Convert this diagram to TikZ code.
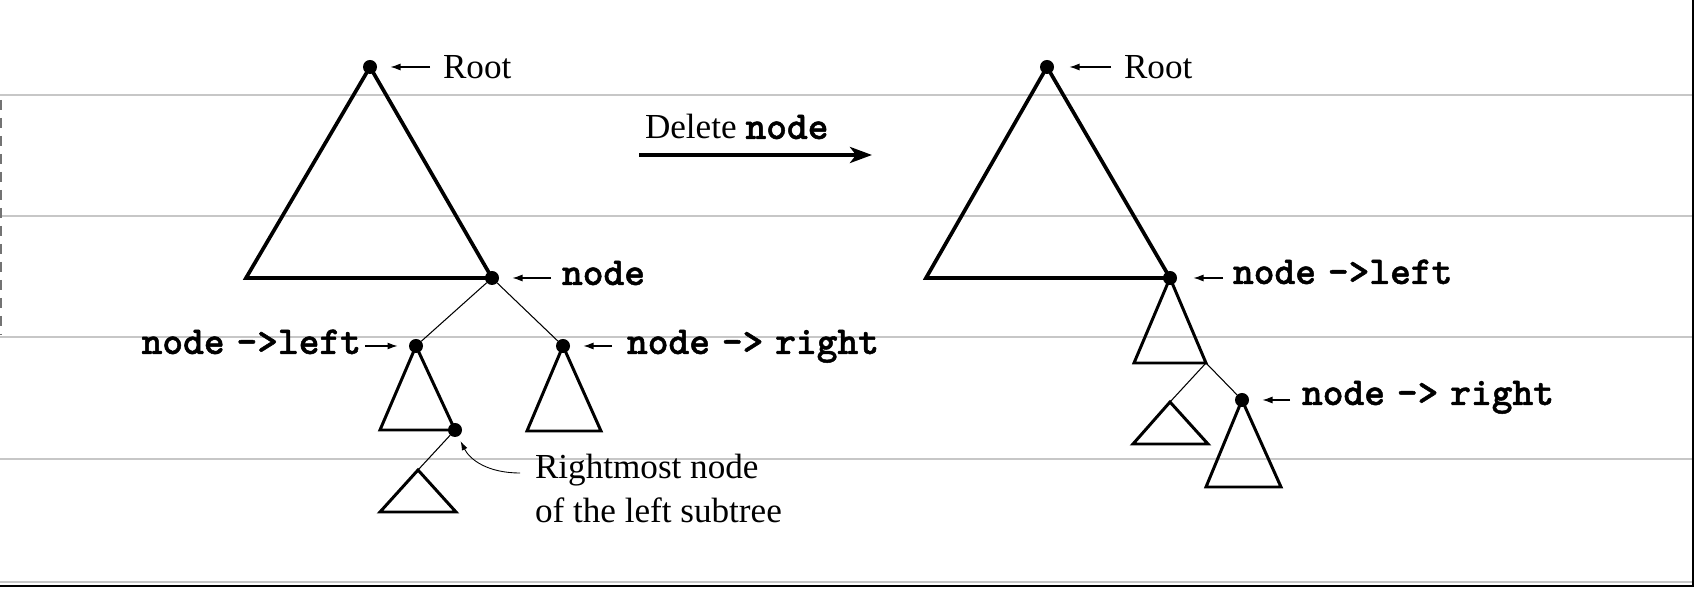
\documentclass[tikz,border=0pt]{standalone}
\usepackage{fontspec}
\setmainfont{Liberation Serif}
\newfontfamily\codefont{lmmonolt10-bold.otf}[FakeBold=1.2]
\usetikzlibrary{arrows.meta}

\newlength{\du}
\setlength{\du}{0.02cm}
\newcommand{\ptrto}{\kern.3em->}

\tikzset{
  treedot/.style={circle,fill=black,inner sep=0pt,outer sep=0pt,minimum size=14\du},
  textlabel/.style={inner sep=0pt,outer sep=0pt,font=\fontsize{20}{25}\selectfont},
  codelabel/.style={inner sep=0pt,outer sep=0pt,font=\fontsize{22.5}{25}\codefont},
  bigtree/.style={line width=2.1pt,miter limit=10},
  subtree/.style={line width=1.7pt,miter limit=10},
  treelink/.style={line width=0.6pt},
  pointer/.style={line width=0.6pt,-{Latex[length=0.2cm,width=0.14cm]},shorten >=13.5\du},
  ruling/.style={draw=rulecolor,line width=0.6pt}
}

\begin{document}
\begin{tikzpicture}
\pgftransformxscale{1.000000}
\pgftransformyscale{-1.000000}
\definecolor{rulecolor}{rgb}{0.780000, 0.780000, 0.780000}
\definecolor{edgecolor}{rgb}{0.450000, 0.450000, 0.450000}
\useasboundingbox (0\du,0\du) rectangle (1695\du,590\du);
% ruled sheet
\foreach \y in {95,216,337,459,582}
  \draw[ruling] (0\du,\y\du) -- (1692\du,\y\du);
\draw[edgecolor,line width=0.8pt,dash pattern=on 10\du off 8\du] (1\du,100\du) -- (1\du,335\du);
\draw[line width=1.4pt] (0\du,586\du) -- (1693\du,586\du) -- (1693\du,0\du);
% before
\node[treedot] (root1) at (370\du,67\du) {};
\node[treedot] (node1) at (492\du,278\du) {};
\node[treedot] (left1) at (416\du,346\du) {};
\node[treedot] (right1) at (563\du,346\du) {};
\node[treedot] (most1) at (455\du,430\du) {};
\coordinate (base1) at (246\du,278\du);
\coordinate (leftbase1) at (380\du,430\du);
\coordinate (rightbase1a) at (527\du,431\du);
\coordinate (rightbase1b) at (601\du,431\du);
\coordinate (sub1) at (418\du,470\du);
\coordinate (subbase1a) at (380\du,512\du);
\coordinate (subbase1b) at (456\du,512\du);
\draw[bigtree] (root1.center) -- (base1) -- (node1.center) -- cycle;
\draw[treelink] (node1) -- (left1);
\draw[treelink] (node1) -- (right1);
\draw[subtree] (left1.center) -- (leftbase1) -- (most1.center) -- cycle;
\draw[subtree] (right1.center) -- (rightbase1a) -- (rightbase1b) -- cycle;
\draw[treelink] (most1) -- (sub1);
\draw[subtree] (sub1) -- (subbase1a) -- (subbase1b) -- cycle;
\node[textlabel,anchor=base west] (rootlbl1) at (443\du,79\du) {Root};
\node[codelabel,anchor=base west] (nodelbl1) at (562\du,285\du) {node};
\node[codelabel,anchor=base east] (leftlbl1) at (361\du,354\du) {node\ptrto left};
\node[codelabel,anchor=base west] (rightlbl1) at (627\du,354\du) {node\ptrto\kern.3em right};
\node[textlabel,anchor=north west,align=left] (mostlbl1) at (535\du,454\du) {Rightmost node\\of the left subtree};
\draw[pointer,shorten <=13\du] (rootlbl1.west |- root1) -- (root1);
\draw[pointer,shorten <=11\du] (nodelbl1.west |- node1) -- (node1);
\draw[pointer,shorten <=4\du,shorten >=11.5\du] (leftlbl1.east |- left1) -- (left1);
\draw[pointer,shorten <=15\du] (rightlbl1.west |- right1) -- (right1);
\coordinate (mosttail) at (520\du,473\du);
\draw[line width=0.5pt,-{Latex[length=0.18cm,width=0.12cm]},shorten >=5.5\du] (mosttail) .. controls (488\du,473\du) and (470\du,460\du) .. (most1);
% delete
\node[textlabel,anchor=base west] (deletelbl) at (645\du,139\du) {Delete {\fontsize{22.5}{25}\codefont node}};
\coordinate (deletefrom) at (639\du,155\du);
\coordinate (deleteto) at (872\du,155\du);
\draw[line width=2.3pt,-{Stealth[length=0.44cm,width=0.32cm,inset=0.12cm]}] (deletefrom) -- (deleteto);
% after
\node[treedot] (root2) at (1047\du,67\du) {};
\node[treedot] (left2) at (1170\du,278\du) {};
\node[treedot] (right2) at (1242\du,400\du) {};
\coordinate (base2) at (926\du,278\du);
\coordinate (leftbase2a) at (1134\du,363\du);
\coordinate (leftbase2b) at (1206\du,363\du);
\coordinate (sub2) at (1170\du,402\du);
\coordinate (subbase2a) at (1133\du,444\du);
\coordinate (subbase2b) at (1208\du,444\du);
\coordinate (rightbase2a) at (1206\du,487\du);
\coordinate (rightbase2b) at (1281\du,487\du);
\draw[bigtree] (root2.center) -- (base2) -- (left2.center) -- cycle;
\draw[subtree] (left2.center) -- (leftbase2a) -- (leftbase2b) -- cycle;
\draw[treelink] (leftbase2b) -- (sub2);
\draw[treelink] (leftbase2b) -- (right2);
\draw[subtree] (sub2) -- (subbase2a) -- (subbase2b) -- cycle;
\draw[subtree] (right2.center) -- (rightbase2a) -- (rightbase2b) -- cycle;
\node[textlabel,anchor=base west] (rootlbl2) at (1124\du,79\du) {Root};
\node[codelabel,anchor=base west] (leftlbl2) at (1233\du,284\du) {node\ptrto left};
\node[codelabel,anchor=base west] (rightlbl2) at (1302\du,405\du) {node\ptrto\kern.3em right};
\draw[pointer,shorten <=13\du,shorten >=15.5\du] (rootlbl2.west |- root2) -- (root2);
\draw[pointer,shorten <=10\du,shorten >=16.5\du] (leftlbl2.west |- left2) -- (left2);
\draw[pointer,shorten <=12\du] (rightlbl2.west |- right2) -- (right2);
\end{tikzpicture}
\end{document}
